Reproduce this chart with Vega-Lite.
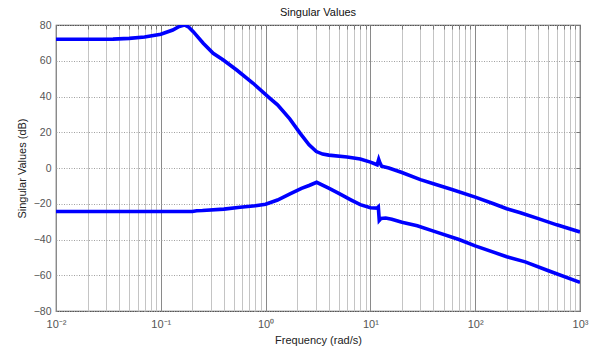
{
  "$schema": "https://vega.github.io/schema/vega-lite/v6.json",
  "autosize": {"type": "none"},
  "padding": {"left": 56, "top": 25, "right": 14, "bottom": 41},
  "width": 524,
  "height": 286,
  "background": "white",
  "title": {"text": "Singular Values", "fontSize": 11, "fontWeight": "normal", "font": "Liberation Sans", "color": "#111", "offset": 2},
  "config": {
    "view": {"stroke": "#555", "strokeWidth": 1.2},
    "font": "Liberation Sans"
  },
  "data": {"values": [
    {"f": 0.01, "sv": 72.0, "s": "1"},
    {"f": 0.02, "sv": 72.0, "s": "1"},
    {"f": 0.035, "sv": 72.1, "s": "1"},
    {"f": 0.05, "sv": 72.5, "s": "1"},
    {"f": 0.07, "sv": 73.3, "s": "1"},
    {"f": 0.1, "sv": 74.8, "s": "1"},
    {"f": 0.13, "sv": 77.2, "s": "1"},
    {"f": 0.15, "sv": 79.2, "s": "1"},
    {"f": 0.168, "sv": 80.0, "s": "1"},
    {"f": 0.185, "sv": 78.8, "s": "1"},
    {"f": 0.204, "sv": 76.3, "s": "1"},
    {"f": 0.254, "sv": 69.8, "s": "1"},
    {"f": 0.316, "sv": 64.2, "s": "1"},
    {"f": 0.395, "sv": 60.4, "s": "1"},
    {"f": 0.53, "sv": 54.8, "s": "1"},
    {"f": 0.76, "sv": 47.4, "s": "1"},
    {"f": 1.1, "sv": 39.0, "s": "1"},
    {"f": 1.3, "sv": 35.3, "s": "1"},
    {"f": 1.7, "sv": 27.5, "s": "1"},
    {"f": 2.13, "sv": 19.5, "s": "1"},
    {"f": 2.6, "sv": 13.0, "s": "1"},
    {"f": 3.05, "sv": 9.2, "s": "1"},
    {"f": 3.5, "sv": 7.8, "s": "1"},
    {"f": 4.0, "sv": 7.2, "s": "1"},
    {"f": 6.0, "sv": 6.2, "s": "1"},
    {"f": 8.0, "sv": 5.0, "s": "1"},
    {"f": 10.0, "sv": 3.3, "s": "1"},
    {"f": 11.6, "sv": 1.8, "s": "1"},
    {"f": 12.0, "sv": 4.8, "s": "1"},
    {"f": 12.3, "sv": 3.0, "s": "1"},
    {"f": 12.8, "sv": 1.0, "s": "1"},
    {"f": 15.0, "sv": 0.0, "s": "1"},
    {"f": 20.0, "sv": -2.5, "s": "1"},
    {"f": 30.0, "sv": -6.5, "s": "1"},
    {"f": 40.0, "sv": -8.8, "s": "1"},
    {"f": 60.0, "sv": -12.0, "s": "1"},
    {"f": 100.0, "sv": -16.3, "s": "1"},
    {"f": 150.0, "sv": -20.0, "s": "1"},
    {"f": 200.0, "sv": -22.8, "s": "1"},
    {"f": 270.0, "sv": -25.0, "s": "1"},
    {"f": 400.0, "sv": -28.3, "s": "1"},
    {"f": 600.0, "sv": -31.8, "s": "1"},
    {"f": 1000.0, "sv": -35.8, "s": "1"},
    {"f": 0.01, "sv": -24.3, "s": "2"},
    {"f": 0.1, "sv": -24.3, "s": "2"},
    {"f": 0.2, "sv": -24.3, "s": "2"},
    {"f": 0.22, "sv": -23.9, "s": "2"},
    {"f": 0.25, "sv": -23.8, "s": "2"},
    {"f": 0.4, "sv": -23.0, "s": "2"},
    {"f": 0.57, "sv": -22.0, "s": "2"},
    {"f": 0.8, "sv": -21.1, "s": "2"},
    {"f": 1.0, "sv": -20.3, "s": "2"},
    {"f": 1.3, "sv": -17.9, "s": "2"},
    {"f": 1.71, "sv": -14.5, "s": "2"},
    {"f": 2.2, "sv": -11.4, "s": "2"},
    {"f": 2.6, "sv": -9.8, "s": "2"},
    {"f": 3.07, "sv": -8.0, "s": "2"},
    {"f": 4.0, "sv": -11.3, "s": "2"},
    {"f": 5.1, "sv": -14.5, "s": "2"},
    {"f": 6.5, "sv": -17.8, "s": "2"},
    {"f": 8.0, "sv": -20.5, "s": "2"},
    {"f": 10.0, "sv": -22.2, "s": "2"},
    {"f": 11.6, "sv": -22.4, "s": "2"},
    {"f": 11.9, "sv": -21.8, "s": "2"},
    {"f": 12.15, "sv": -29.3, "s": "2"},
    {"f": 12.6, "sv": -28.3, "s": "2"},
    {"f": 14.0, "sv": -28.0, "s": "2"},
    {"f": 16.0, "sv": -28.7, "s": "2"},
    {"f": 20.0, "sv": -30.4, "s": "2"},
    {"f": 28.0, "sv": -32.3, "s": "2"},
    {"f": 40.0, "sv": -35.3, "s": "2"},
    {"f": 70.0, "sv": -40.0, "s": "2"},
    {"f": 100.0, "sv": -43.6, "s": "2"},
    {"f": 200.0, "sv": -49.6, "s": "2"},
    {"f": 300.0, "sv": -52.5, "s": "2"},
    {"f": 500.0, "sv": -57.5, "s": "2"},
    {"f": 1000.0, "sv": -64.0, "s": "2"}
  ]},
  "resolve": {"axis": {"x": "independent", "y": "independent"}},
  "layer": [
    {
      "transform": [{"filter": "datum.s == '1'"}],
      "mark": {"type": "line", "color": "#0000ff", "strokeWidth": 3.6, "clip": true},
      "encoding": {
        "x": {
          "field": "f", "type": "quantitative",
          "scale": {"type": "log", "domain": [0.01, 1000], "nice": false},
          "axis": {
            "orient": "bottom",
            "title": "Frequency (rad/s)",
            "titleFontSize": 11, "titleFontWeight": "normal", "titleColor": "#222", "titlePadding": 5,
            "values": [0.01,0.02,0.03,0.04,0.05,0.06,0.07,0.08,0.09,0.1,0.2,0.3,0.4,0.5,0.6,0.7,0.8,0.9,1,2,3,4,5,6,7,8,9,10,20,30,40,50,60,70,80,90,100,200,300,400,500,600,700,800,900,1000],
            "labelExpr": "abs(log(datum.value)/LN10 - round(log(datum.value)/LN10)) < 1e-6 ? '10' + ['⁻²','⁻¹','⁰','¹','²','³'][round(log(datum.value)/LN10) + 2] : ''",
            "labelFontSize": 11, "labelColor": "#555", "labelPadding": 7, "labelFlush": false,
            "grid": true,
            "gridColor": {"condition": {"test": "abs(log(datum.value)/LN10 - round(log(datum.value)/LN10)) < 1e-6", "value": "#8a8a8a"}, "value": "#c4c4c4"},
            "gridWidth": 1,
            "domain": false,
            "ticks": false,
            "labelOverlap": false
          }
        },
        "y": {
          "field": "sv", "type": "quantitative",
          "scale": {"domain": [-80, 80], "nice": false},
          "axis": {
            "orient": "left",
            "title": "Singular Values (dB)",
            "titleFontSize": 11, "titleFontWeight": "normal", "titleColor": "#222", "titlePadding": 6,
            "values": [-80,-60,-40,-20,0,20,40,60,80],
            "labelFontSize": 10.5, "labelColor": "#555", "labelPadding": 5,
            "grid": true, "gridColor": "#a0a0a0", "gridDash": [1, 1.5], "gridWidth": 1,
            "domain": false,
            "ticks": false
          }
        }
      }
    },
    {
      "transform": [{"filter": "datum.s == '2'"}],
      "mark": {"type": "line", "color": "#0000ff", "strokeWidth": 3.6, "clip": true},
      "encoding": {
        "x": {
          "field": "f", "type": "quantitative",
          "scale": {"type": "log", "domain": [0.01, 1000], "nice": false},
          "axis": {
            "orient": "top", "title": null, "labels": false, "grid": false, "domain": false,
            "values": [0.01,0.02,0.03,0.04,0.05,0.06,0.07,0.08,0.09,0.1,0.2,0.3,0.4,0.5,0.6,0.7,0.8,0.9,1,2,3,4,5,6,7,8,9,10,20,30,40,50,60,70,80,90,100,200,300,400,500,600,700,800,900,1000],
            "ticks": true, "tickSize": -4, "tickColor": "#777"
          }
        },
        "y": {
          "field": "sv", "type": "quantitative",
          "scale": {"domain": [-80, 80], "nice": false},
          "axis": {
            "orient": "right", "title": null, "labels": false, "grid": false, "domain": false,
            "values": [-80,-60,-40,-20,0,20,40,60,80],
            "ticks": true, "tickSize": -4, "tickColor": "#777"
          }
        }
      }
    }
  ]
}
